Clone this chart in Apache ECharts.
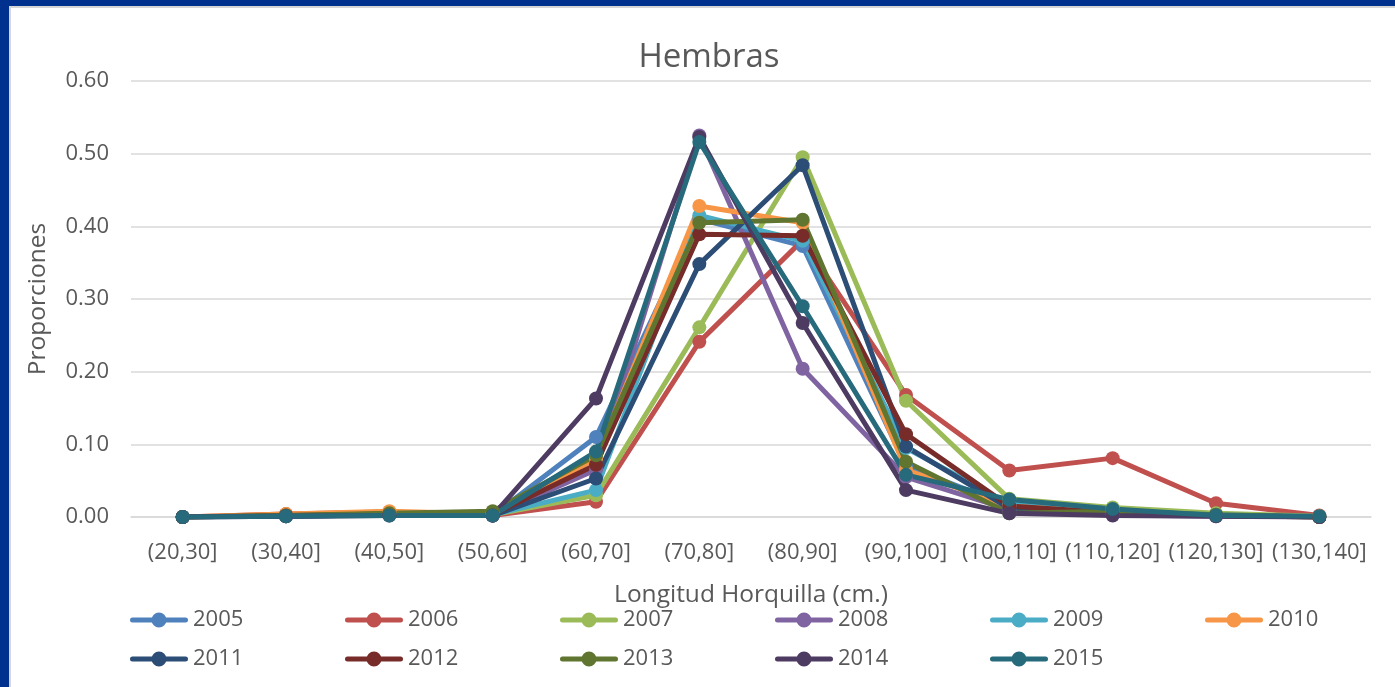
<!DOCTYPE html>
<html>
<head>
<meta charset="utf-8">
<script src="https://cdn.jsdelivr.net/npm/echarts@6/dist/echarts.min.js"></script>
<style>
  html, body { margin: 0; padding: 0; width: 1395px; height: 687px; overflow: hidden; background: #00318f; }
  #panel { position: absolute; left: 9px; top: 6px; width: 1386px; height: 681px; background: #ffffff; border-left: 2px solid #d6d6d6; border-top: 2px solid #d6d6d6; box-sizing: border-box; }
  #chart { position: absolute; left: 0; top: 0; width: 1395px; height: 687px; }
</style>
</head>
<body>
<div id="panel"></div>
<div id="chart"></div>
<script>
const categories = ['(20,30]','(30,40]','(40,50]','(50,60]','(60,70]','(70,80]','(80,90]','(90,100]','(100,110]','(110,120]','(120,130]','(130,140]'];
const yTicks = [0, 0.1, 0.2, 0.3, 0.4, 0.5, 0.6];

const y2005 = [0, 0.002, 0.004, 0.002, 0.110, 0.410, 0.373, 0.070, 0.015, 0.005, 0.002, 0];
const y2006 = [0, 0.004, 0.007, 0.002, 0.021, 0.241, 0.381, 0.168, 0.064, 0.081, 0.019, 0.002];
const y2007 = [0, 0.002, 0.006, 0.003, 0.030, 0.261, 0.495, 0.160, 0.025, 0.013, 0.005, 0.001];
const y2008 = [0, 0.001, 0.003, 0.002, 0.065, 0.525, 0.204, 0.055, 0.010, 0.003, 0.001, 0];
const y2009 = [0, 0.002, 0.004, 0.003, 0.037, 0.415, 0.380, 0.095, 0.018, 0.008, 0.003, 0];
const y2010 = [0, 0.004, 0.008, 0.004, 0.080, 0.428, 0.405, 0.065, 0.015, 0.006, 0.002, 0];
const y2011 = [0, 0.001, 0.003, 0.002, 0.053, 0.348, 0.484, 0.097, 0.012, 0.005, 0.002, 0];
const y2012 = [0, 0.002, 0.004, 0.003, 0.072, 0.389, 0.387, 0.114, 0.015, 0.006, 0.002, 0];
const y2013 = [0, 0.002, 0.005, 0.008, 0.085, 0.405, 0.409, 0.076, 0.005, 0.008, 0.003, 0];
const y2014 = [0, 0.001, 0.002, 0.002, 0.163, 0.523, 0.267, 0.037, 0.005, 0.002, 0.001, 0];
const y2015 = [0, 0.001, 0.002, 0.002, 0.090, 0.516, 0.290, 0.058, 0.024, 0.011, 0.002, 0.001];

const seriesNames = ['2005','2006','2007','2008','2009','2010','2011','2012','2013','2014','2015'];
const seriesData = [y2005, y2006, y2007, y2008, y2009, y2010, y2011, y2012, y2013, y2014, y2015];
const colors = ['#4f81bd','#c0504d','#9bbb59','#8064a2','#4bacc6','#f79646','#2c4d75','#772c2a','#5f7530','#4d3b62','#276a7c'];

const FONT = '"Open Sans", "DejaVu Sans", sans-serif';
const TXT = '#595959';
// legend icon: thick line with a circle marker in the middle (58 x 16 box)
const LEGEND_ICON = 'path://M2.5,5.5 L55.5,5.5 A2.5,2.5 0 0,1 55.5,10.5 L2.5,10.5 A2.5,2.5 0 0,1 2.5,5.5 Z M21.5,8 A7.5,7.5 0 1,1 36.5,8 A7.5,7.5 0 1,1 21.5,8 Z';

const chart = echarts.init(document.getElementById('chart'), null, { renderer: 'canvas' });
chart.setOption({
  backgroundColor: 'transparent',
  animation: false,
  color: colors,
  title: {
    text: 'Hembras',
    left: 704,
    textAlign: 'center',
    top: 36,
    textStyle: { fontFamily: FONT, fontSize: 33, fontWeight: 'normal', color: TXT }
  },
  legend: {
    data: seriesNames,
    icon: LEGEND_ICON,
    left: 130,
    top: 609,
    padding: 0,
    width: 1290,
    itemWidth: 58,
    itemHeight: 16,
    itemGap: 17,
    textStyle: { fontFamily: FONT, fontSize: 22, color: TXT, width: 135, lineHeight: 18, overflow: 'none' }
  },
  grid: { left: 131, right: 24, top: 81, bottom: 170, containLabel: false },
  xAxis: {
    type: 'category',
    data: categories,
    boundaryGap: true,
    name: 'Longitud Horquilla (cm.)',
    nameLocation: 'middle',
    nameGap: 66,
    nameTextStyle: { fontFamily: FONT, fontSize: 24.5, color: TXT },
    axisLine: { show: true, lineStyle: { color: '#d9d9d9', width: 1.5 } },
    axisTick: { show: false },
    axisLabel: { fontFamily: FONT, fontSize: 22, color: TXT, margin: 25, interval: 0 }
  },
  yAxis: {
    type: 'value',
    min: yTicks[0],
    max: yTicks[yTicks.length - 1],
    interval: 0.1,
    name: 'Proporciones',
    nameLocation: 'middle',
    nameGap: 80,
    nameTextStyle: { fontFamily: FONT, fontSize: 24.5, color: TXT },
    axisLine: { show: false },
    axisTick: { show: false },
    splitLine: { lineStyle: { color: '#d9d9d9', width: 1.5 } },
    axisLabel: { fontFamily: FONT, fontSize: 22, color: TXT, margin: 22, formatter: v => v.toFixed(2) }
  },
  series: seriesNames.map((n, i) => ({
    name: n,
    type: 'line',
    data: seriesData[i],
    symbol: 'circle',
    symbolSize: 14,
    showSymbol: true,
    lineStyle: { width: 5, color: colors[i] },
    itemStyle: { color: colors[i] },
    emphasis: { disabled: true }
  }))
});
</script>
</body>
</html>
